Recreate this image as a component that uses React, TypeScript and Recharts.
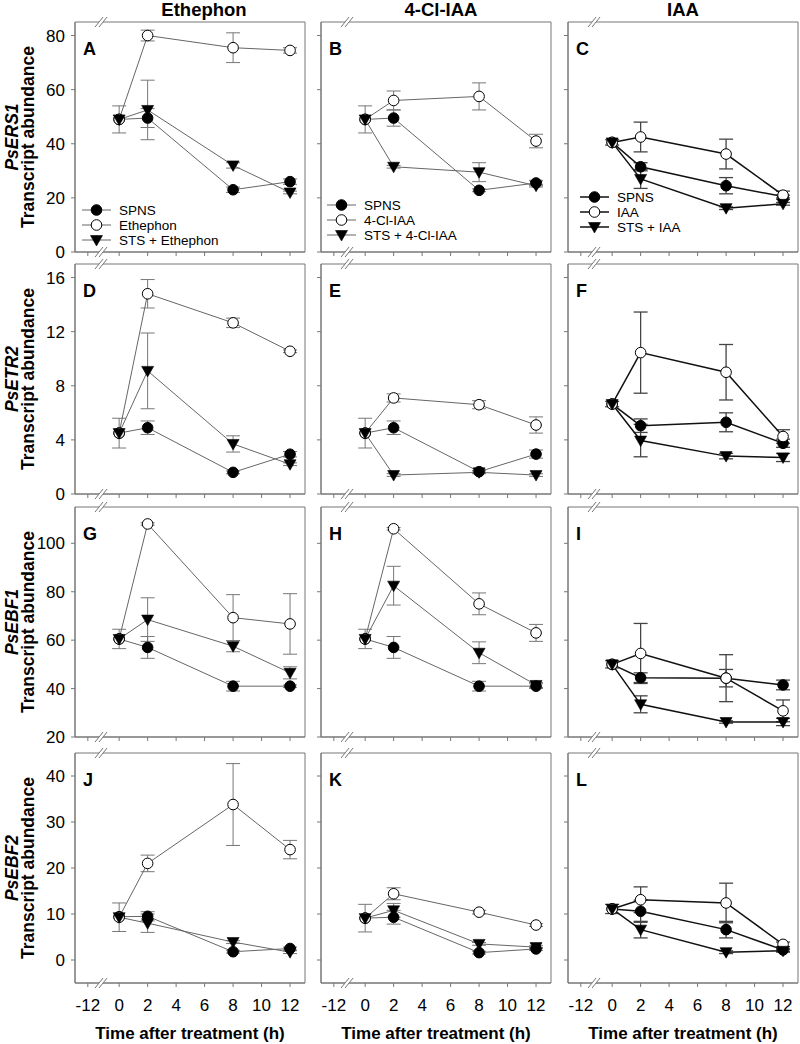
import React from 'react';
import { LineChart, Line, XAxis, YAxis, ErrorBar, ReferenceArea, ReferenceDot, Legend } from 'recharts';

// sampling times (h)
const hours = [0, 2, 8, 12];
const xTicks = [-2.2, 0, 2, 4, 6, 8, 10, 12];
const xTickLabels = ['-12', '0', '2', '4', '6', '8', '10', '12'];

const columnTitles = ['Ethephon', '4-Cl-IAA', 'IAA'];
const geneNames = ['PsERS1', 'PsETR2', 'PsEBF1', 'PsEBF2'];
const panelLetters = ['A', 'B', 'C', 'D', 'E', 'F', 'G', 'H', 'I', 'J', 'K', 'L'];
const legendNames = [
  ['SPNS', 'Ethephon', 'STS + Ethephon'],
  ['SPNS', '4-Cl-IAA', 'STS + 4-Cl-IAA'],
  ['SPNS', 'IAA', 'STS + IAA'],
];

const yDomains = [[0, 85], [0, 17], [20, 115], [-5, 45]];
const yTicks = [[0, 20, 40, 60, 80], [0, 4, 8, 12, 16], [20, 40, 60, 80, 100], [0, 10, 20, 30, 40]];

// PsERS1
const aSpns = [49, 49.5, 23, 26];
const aSpnsErr = [0, 3.5, 1, 1];
const aTrt = [49, 80, 75.5, 74.5];
const aTrtErr = [5, 2, 5.5, 1];
const aSts = [49, 52.5, 32, 22];
const aStsErr = [0, 11, 1, 0.5];

const bSpns = [49, 49.5, 22.8, 25.5];
const bSpnsErr = [0, 3, 0.5, 1];
const bTrt = [49, 56, 57.5, 41];
const bTrtErr = [5, 3.5, 5, 2.5];
const bSts = [49, 31.5, 29.5, 24.5];
const bStsErr = [0, 0.5, 3.5, 0.5];

const cSpns = [40.5, 31.5, 24.5, 20.5];
const cSpnsErr = [1, 1.5, 3, 0.5];
const cTrt = [40.5, 42.5, 36.2, 21];
const cTrtErr = [0, 5.5, 5.5, 1.5];
const cSts = [40.5, 27, 16.2, 17.8];
const cStsErr = [0, 3.5, 0.5, 0.5];

// PsETR2
const dSpns = [4.5, 4.9, 1.6, 2.94];
const dSpnsErr = [1.1, 0.5, 0.1, 0.2];
const dTrt = [4.5, 14.8, 12.65, 10.55];
const dTrtErr = [0, 1.05, 0.35, 0.1];
const dSts = [4.5, 9.1, 3.7, 2.2];
const dStsErr = [0, 2.8, 0.6, 0.1];

const eSpns = [4.5, 4.9, 1.65, 2.95];
const eSpnsErr = [1.1, 0.5, 0.1, 0.3];
const eTrt = [4.5, 7.1, 6.6, 5.1];
const eTrtErr = [0, 0.3, 0.3, 0.6];
const eSts = [4.5, 1.4, 1.6, 1.4];
const eStsErr = [0, 0.1, 0.1, 0.1];

const fSpns = [6.65, 5.05, 5.3, 3.75];
const fSpnsErr = [0.2, 0.5, 0.7, 0.3];
const fTrt = [6.65, 10.45, 9.0, 4.25];
const fTrtErr = [0, 3, 2.05, 0.5];
const fSts = [6.65, 3.95, 2.8, 2.7];
const fStsErr = [0, 1.2, 0.2, 0.3];

// PsEBF1
const gSpns = [60.5, 57, 41, 41];
const gSpnsErr = [0, 4.5, 2, 0.5];
const gTrt = [60.5, 108, 69.3, 66.7];
const gTrtErr = [0, 0.5, 9.5, 12.5];
const gSts = [60.5, 68.5, 57.5, 46.5];
const gStsErr = [4, 9, 2.3, 2.5];

const hSpns = [60.5, 57, 41, 41];
const hSpnsErr = [0, 4.5, 2, 1];
const hTrt = [60.5, 106, 75, 63];
const hTrtErr = [0, 0.5, 4.5, 3.5];
const hSts = [60.5, 82.5, 54.8, 41.5];
const hStsErr = [4, 8, 4.5, 1];

const iSpns = [50, 44.5, 44.3, 41.5];
const iSpnsErr = [0, 2, 3.6, 2];
const iTrt = [50, 54.5, 44.3, 30.8];
const iTrtErr = [1.5, 12.4, 9.7, 4.5];
const iSts = [50, 33.5, 26.2, 26.2];
const iStsErr = [0, 3.5, 0.5, 1.5];

// PsEBF2
const jSpns = [9.4, 9.5, 1.8, 2.5];
const jSpnsErr = [0, 1, 0.3, 0.3];
const jTrt = [9.3, 21, 33.8, 24];
const jTrtErr = [3.1, 1.8, 8.9, 2];
const jSts = [9.3, 8, 3.9, 1.7];
const jStsErr = [0, 2, 0.3, 0.3];

const kSpns = [9.1, 9.3, 1.6, 2.4];
const kSpnsErr = [0, 1.5, 0.3, 0.3];
const kTrt = [9.1, 14.4, 10.4, 7.6];
const kTrtErr = [3, 1.3, 0.4, 0.3];
const kSts = [9.1, 10.8, 3.5, 2.8];
const kStsErr = [0, 1.5, 0.3, 0.3];

const lSpns = [11.1, 10.6, 6.6, 2.2];
const lSpnsErr = [1, 2.4, 1.8, 0.3];
const lTrt = [11.1, 13.1, 12.4, 3.4];
const lTrtErr = [0, 2.8, 4.3, 0.5];
const lSts = [11.1, 6.6, 1.7, 2.0];
const lStsErr = [0, 1.8, 0.3, 0.3];

const panelSeries = [
  [aSpns, aSpnsErr, aTrt, aTrtErr, aSts, aStsErr],
  [bSpns, bSpnsErr, bTrt, bTrtErr, bSts, bStsErr],
  [cSpns, cSpnsErr, cTrt, cTrtErr, cSts, cStsErr],
  [dSpns, dSpnsErr, dTrt, dTrtErr, dSts, dStsErr],
  [eSpns, eSpnsErr, eTrt, eTrtErr, eSts, eStsErr],
  [fSpns, fSpnsErr, fTrt, fTrtErr, fSts, fStsErr],
  [gSpns, gSpnsErr, gTrt, gTrtErr, gSts, gStsErr],
  [hSpns, hSpnsErr, hTrt, hTrtErr, hSts, hStsErr],
  [iSpns, iSpnsErr, iTrt, iTrtErr, iSts, iStsErr],
  [jSpns, jSpnsErr, jTrt, jTrtErr, jSts, jStsErr],
  [kSpns, kSpnsErr, kTrt, kTrtErr, kSts, kStsErr],
  [lSpns, lSpnsErr, lTrt, lTrtErr, lSts, lStsErr],
];

const FONT = '"Liberation Sans", Arial, Helvetica, sans-serif';
const PW = 230;
const PH = 230;
const colLeft = [75, 321, 568];
const rowTop = [22, 264, 507, 753];
const Y_W = 50;
const M_TOP = 10;
const M_RIGHT = 6;
const X_DOMAIN: [number, number] = [-3.1, 13.05];
const BREAK_X = -1.2;
const FRAME = '#777';
const legendPos = [{ x: 82, y: 210 }, { x: 327, y: 205 }, { x: 580, y: 197 }];

function Marker({ cx, cy, kind }: { cx: number; cy: number; kind: string }) {
  if (cx == null || cy == null || isNaN(cx) || isNaN(cy)) return null;
  if (kind === 'tri') {
    return <path d={`M${cx - 6},${cy - 4.5}L${cx + 6},${cy - 4.5}L${cx},${cy + 6}Z`} fill="#000" stroke="#000" strokeWidth={0.6} />;
  }
  return <circle cx={cx} cy={cy} r={5.3} fill={kind === 'open' ? '#fff' : '#000'} stroke="#000" strokeWidth={1} />;
}

const BreakMark = (p: any) => {
  const { cx, cy } = p;
  return (
    <g>
      <polygon points={`${cx - 7},${cy + 5} ${cx + 1},${cy - 5} ${cx + 5},${cy - 5} ${cx - 3},${cy + 5}`} fill="#fff" />
      <line x1={cx - 7} y1={cy + 5} x2={cx + 1} y2={cy - 5} stroke={FRAME} strokeWidth={1} />
      <line x1={cx - 3} y1={cy + 5} x2={cx + 5} y2={cy - 5} stroke={FRAME} strokeWidth={1} />
    </g>
  );
};

const kinds = ['filled', 'open', 'tri'];

function LegendBox({ names, lineColor, lw }: { names: string[]; lineColor: string; lw: number }) {
  return (
    <svg width={150} height={48} style={{ display: 'block', overflow: 'visible' }}>
      {names.map((n, k) => (
        <g key={n}>
          <line x1={0} x2={29} y1={8 + k * 15} y2={8 + k * 15} stroke={lineColor} strokeWidth={lw} />
          <Marker cx={14.5} cy={8 + k * 15} kind={kinds[k]} />
          <text x={37} y={8 + k * 15} dy="0.36em" fontSize={13.5} fontFamily={FONT} fill="#000">{n}</text>
        </g>
      ))}
    </svg>
  );
}

function Panel({ r, c }: { r: number; c: number }) {
  const idx = r * 3 + c;
  const [s, se, t, te, x, xe] = panelSeries[idx];
  const data = hours.map((h, i) => ({ h, s: s[i], se: se[i], t: t[i], te: te[i], x: x[i], xe: xe[i] }));
  const dom = yDomains[r];
  const bottom = r === 3;
  const xH = bottom ? 40 : 10;
  const lineColor = c === 2 ? '#111' : '#666';
  const lw = c === 2 ? 1.5 : 1;
  const errColor = c === 2 ? '#444' : '#777';
  const errW = c === 2 ? 1.3 : 1;
  const divLeft = colLeft[c] - Y_W;
  const divTop = rowTop[r] - M_TOP;
  const keys = [['s', 'se'], ['t', 'te'], ['x', 'xe']];
  return (
    <div style={{ position: 'absolute', left: divLeft, top: divTop }}>
      <LineChart width={Y_W + PW + M_RIGHT} height={M_TOP + PH + xH} data={data}
        margin={{ top: M_TOP, right: M_RIGHT, left: 0, bottom: 0 }}>
        <XAxis type="number" dataKey="h" domain={X_DOMAIN} ticks={xTicks} allowDataOverflow interval={0}
          tickFormatter={(v: number) => (bottom ? xTickLabels[xTicks.indexOf(v)] : '')}
          tickSize={4} tickMargin={12} height={xH} stroke={FRAME}
          tick={{ fill: '#000', fontSize: 17, fontFamily: FONT }} />
        <YAxis type="number" domain={dom} ticks={yTicks[r]} allowDataOverflow interval={0} width={Y_W}
          tickFormatter={(v: number) => (c === 0 ? String(v) : '')}
          tickSize={4} tickMargin={6} stroke={FRAME}
          tick={{ fill: '#000', fontSize: 17, fontFamily: FONT }} />
        <ReferenceArea x1={X_DOMAIN[0]} x2={X_DOMAIN[1]} y1={dom[0]} y2={dom[1]} fill="none" fillOpacity={0}
          stroke={FRAME} strokeWidth={1} ifOverflow="visible" />
        <ReferenceDot x={BREAK_X} y={dom[0]} r={0} shape={BreakMark} ifOverflow="visible" />
        <ReferenceDot x={BREAK_X} y={dom[1]} r={0} shape={BreakMark} ifOverflow="visible" />
        {keys.map(([k, ek], si) => (
          <Line key={k} type="linear" dataKey={k} stroke={lineColor} strokeWidth={lw}
            isAnimationActive={false} activeDot={false}
            dot={(p: any) => <Marker key={`${k}${p.index}`} cx={p.cx} cy={p.cy} kind={kinds[si]} />}>
            <ErrorBar dataKey={ek} width={7} stroke={errColor} strokeWidth={errW} direction="y" />
          </Line>
        ))}
        {r === 0 && (
          <Legend layout="vertical" align="center" verticalAlign="middle"
            wrapperStyle={{ left: legendPos[c].x - divLeft, top: legendPos[c].y - 8 - divTop, width: 150, height: 48 }}
            content={() => <LegendBox names={legendNames[c]} lineColor={lineColor} lw={lw} />} />
        )}
      </LineChart>
    </div>
  );
}

const textBase: React.CSSProperties = {
  position: 'absolute', whiteSpace: 'nowrap', lineHeight: 1, fontFamily: FONT, color: '#000',
};

export default function App() {
  return (
    <div style={{ position: 'absolute', left: 0, top: 0, width: 800, height: 1044, background: '#fff', fontFamily: FONT }}>
      {columnTitles.map((tt, c) => (
        <div key={tt} style={{ ...textBase, left: [204, 441, 683][c], top: 10, transform: 'translate(-50%,-50%)', fontSize: 18.5, fontWeight: 'bold' }}>{tt}</div>
      ))}
      {geneNames.map((g, r) => (
        <React.Fragment key={g}>
          <div style={{ ...textBase, left: 13, top: rowTop[r] + PH / 2, transform: 'translate(-50%,-50%) rotate(-90deg)', fontSize: 17.5, fontWeight: 'bold', fontStyle: 'italic' }}>{g}</div>
          <div style={{ ...textBase, left: 29, top: rowTop[r] + PH / 2, transform: 'translate(-50%,-50%) rotate(-90deg)', fontSize: 17.5, fontWeight: 'bold' }}>Transcript abundance</div>
        </React.Fragment>
      ))}
      {[0, 1, 2, 3].map((r) => [0, 1, 2].map((c) => <Panel key={`${r}-${c}`} r={r} c={c} />))}
      {panelLetters.map((L, i) => (
        <div key={L} style={{ ...textBase, left: colLeft[i % 3] + 8, top: rowTop[Math.floor(i / 3)] + 27, transform: 'translateY(-50%)', fontSize: 18, fontWeight: 'bold' }}>{L}</div>
      ))}
      {[0, 1, 2].map((c) => (
        <div key={`xl${c}`} style={{ ...textBase, left: colLeft[c] + PW / 2, top: 1033, transform: 'translate(-50%,-50%)', fontSize: 17, fontWeight: 'bold' }}>Time after treatment (h)</div>
      ))}
    </div>
  );
}
